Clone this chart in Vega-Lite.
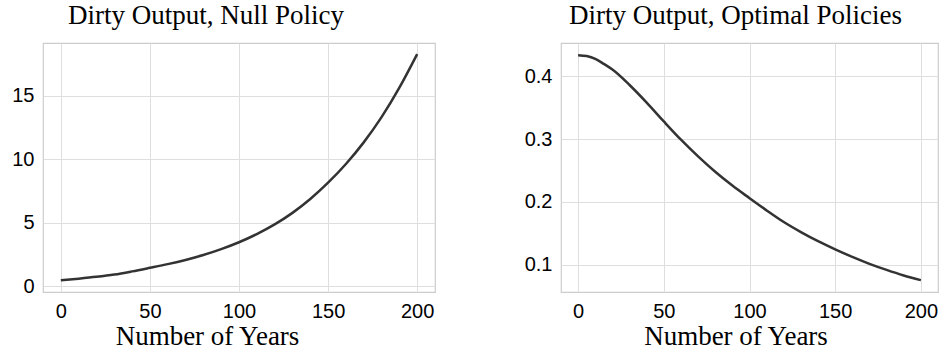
{
  "$schema": "https://vega.github.io/schema/vega-lite/v6.json",
  "background": "white",
  "padding": {"left": 11, "top": 1, "right": 5, "bottom": 5},
  "datasets": {
    "nullPolicy": [
      {"year": 0, "output": 0.49}, {"year": 10, "output": 0.61}, {"year": 20, "output": 0.75},
      {"year": 30, "output": 0.93}, {"year": 40, "output": 1.18}, {"year": 50, "output": 1.46},
      {"year": 60, "output": 1.75}, {"year": 70, "output": 2.08}, {"year": 80, "output": 2.47},
      {"year": 90, "output": 2.93}, {"year": 100, "output": 3.47}, {"year": 110, "output": 4.11},
      {"year": 120, "output": 4.87}, {"year": 130, "output": 5.78}, {"year": 140, "output": 6.87},
      {"year": 150, "output": 8.15}, {"year": 160, "output": 9.62}, {"year": 170, "output": 11.32},
      {"year": 180, "output": 13.3}, {"year": 190, "output": 15.62}, {"year": 200, "output": 18.26}
    ],
    "optimal": [
      {"year": 0, "output": 0.4335}, {"year": 5, "output": 0.432}, {"year": 10, "output": 0.4275},
      {"year": 15, "output": 0.4195}, {"year": 20, "output": 0.4105},
      {"year": 30, "output": 0.386}, {"year": 40, "output": 0.358}, {"year": 50, "output": 0.328},
      {"year": 60, "output": 0.299}, {"year": 70, "output": 0.2725}, {"year": 80, "output": 0.248},
      {"year": 90, "output": 0.226}, {"year": 100, "output": 0.206}, {"year": 110, "output": 0.1865},
      {"year": 120, "output": 0.168}, {"year": 130, "output": 0.152}, {"year": 140, "output": 0.1375},
      {"year": 150, "output": 0.1245}, {"year": 160, "output": 0.1125}, {"year": 170, "output": 0.1015},
      {"year": 180, "output": 0.0918}, {"year": 190, "output": 0.083}, {"year": 200, "output": 0.0755}
    ]
  },
  "spacing": 87,
  "hconcat": [
    {
      "width": 392,
      "height": 249,
      "title": {"text": "Dirty Output, Null Policy", "anchor": "middle", "frame": "group", "dx": -33},
      "data": {"name": "nullPolicy"},
      "mark": {"type": "line", "color": "#333333", "strokeWidth": 2.5, "interpolate": "monotone"},
      "encoding": {
        "x": {"field": "year", "type": "quantitative", "scale": {"domain": [-10, 210], "nice": false, "zero": false},
              "axis": {"values": [0, 50, 100, 150, 200], "title": "Number of Years", "titleX": 164, "titleY": 52, "titleAlign": "center", "titleBaseline": "alphabetic"}},
        "y": {"field": "output", "type": "quantitative", "scale": {"domain": [-0.44, 19.13], "nice": false, "zero": false},
              "axis": {"values": [0, 5, 10, 15], "title": null}}
      }
    },
    {
      "width": 377,
      "height": 249,
      "title": {"text": "Dirty Output, Optimal Policies", "anchor": "middle", "frame": "group", "dx": -14},
      "data": {"name": "optimal"},
      "mark": {"type": "line", "color": "#333333", "strokeWidth": 2.5, "interpolate": "monotone"},
      "encoding": {
        "x": {"field": "year", "type": "quantitative", "scale": {"domain": [-10, 210], "nice": false, "zero": false},
              "axis": {"values": [0, 50, 100, 150, 200], "title": "Number of Years", "titleX": 174.5, "titleY": 52, "titleAlign": "center", "titleBaseline": "alphabetic"}},
        "y": {"field": "output", "type": "quantitative", "scale": {"domain": [0.0567, 0.4528], "nice": false, "zero": false},
              "axis": {"values": [0.1, 0.2, 0.3, 0.4], "format": ".1f", "title": null}}
      }
    }
  ],
  "config": {
    "view": {"stroke": "#cccccc", "strokeWidth": 1.2},
    "title": {"font": "Liberation Serif", "fontSize": 27, "fontWeight": "normal", "color": "#000000", "offset": 13, "baseline": "alphabetic"},
    "axis": {
      "domain": false,
      "ticks": false,
      "grid": true,
      "gridColor": "#dedede",
      "gridWidth": 1,
      "labelFont": "Liberation Sans",
      "labelFontSize": 20,
      "labelColor": "#000000",
      "labelPadding": 9,
      "titleFont": "Liberation Serif",
      "titleFontSize": 27,
      "titleFontWeight": "normal",
      "titleColor": "#000000"
    }
  }
}
